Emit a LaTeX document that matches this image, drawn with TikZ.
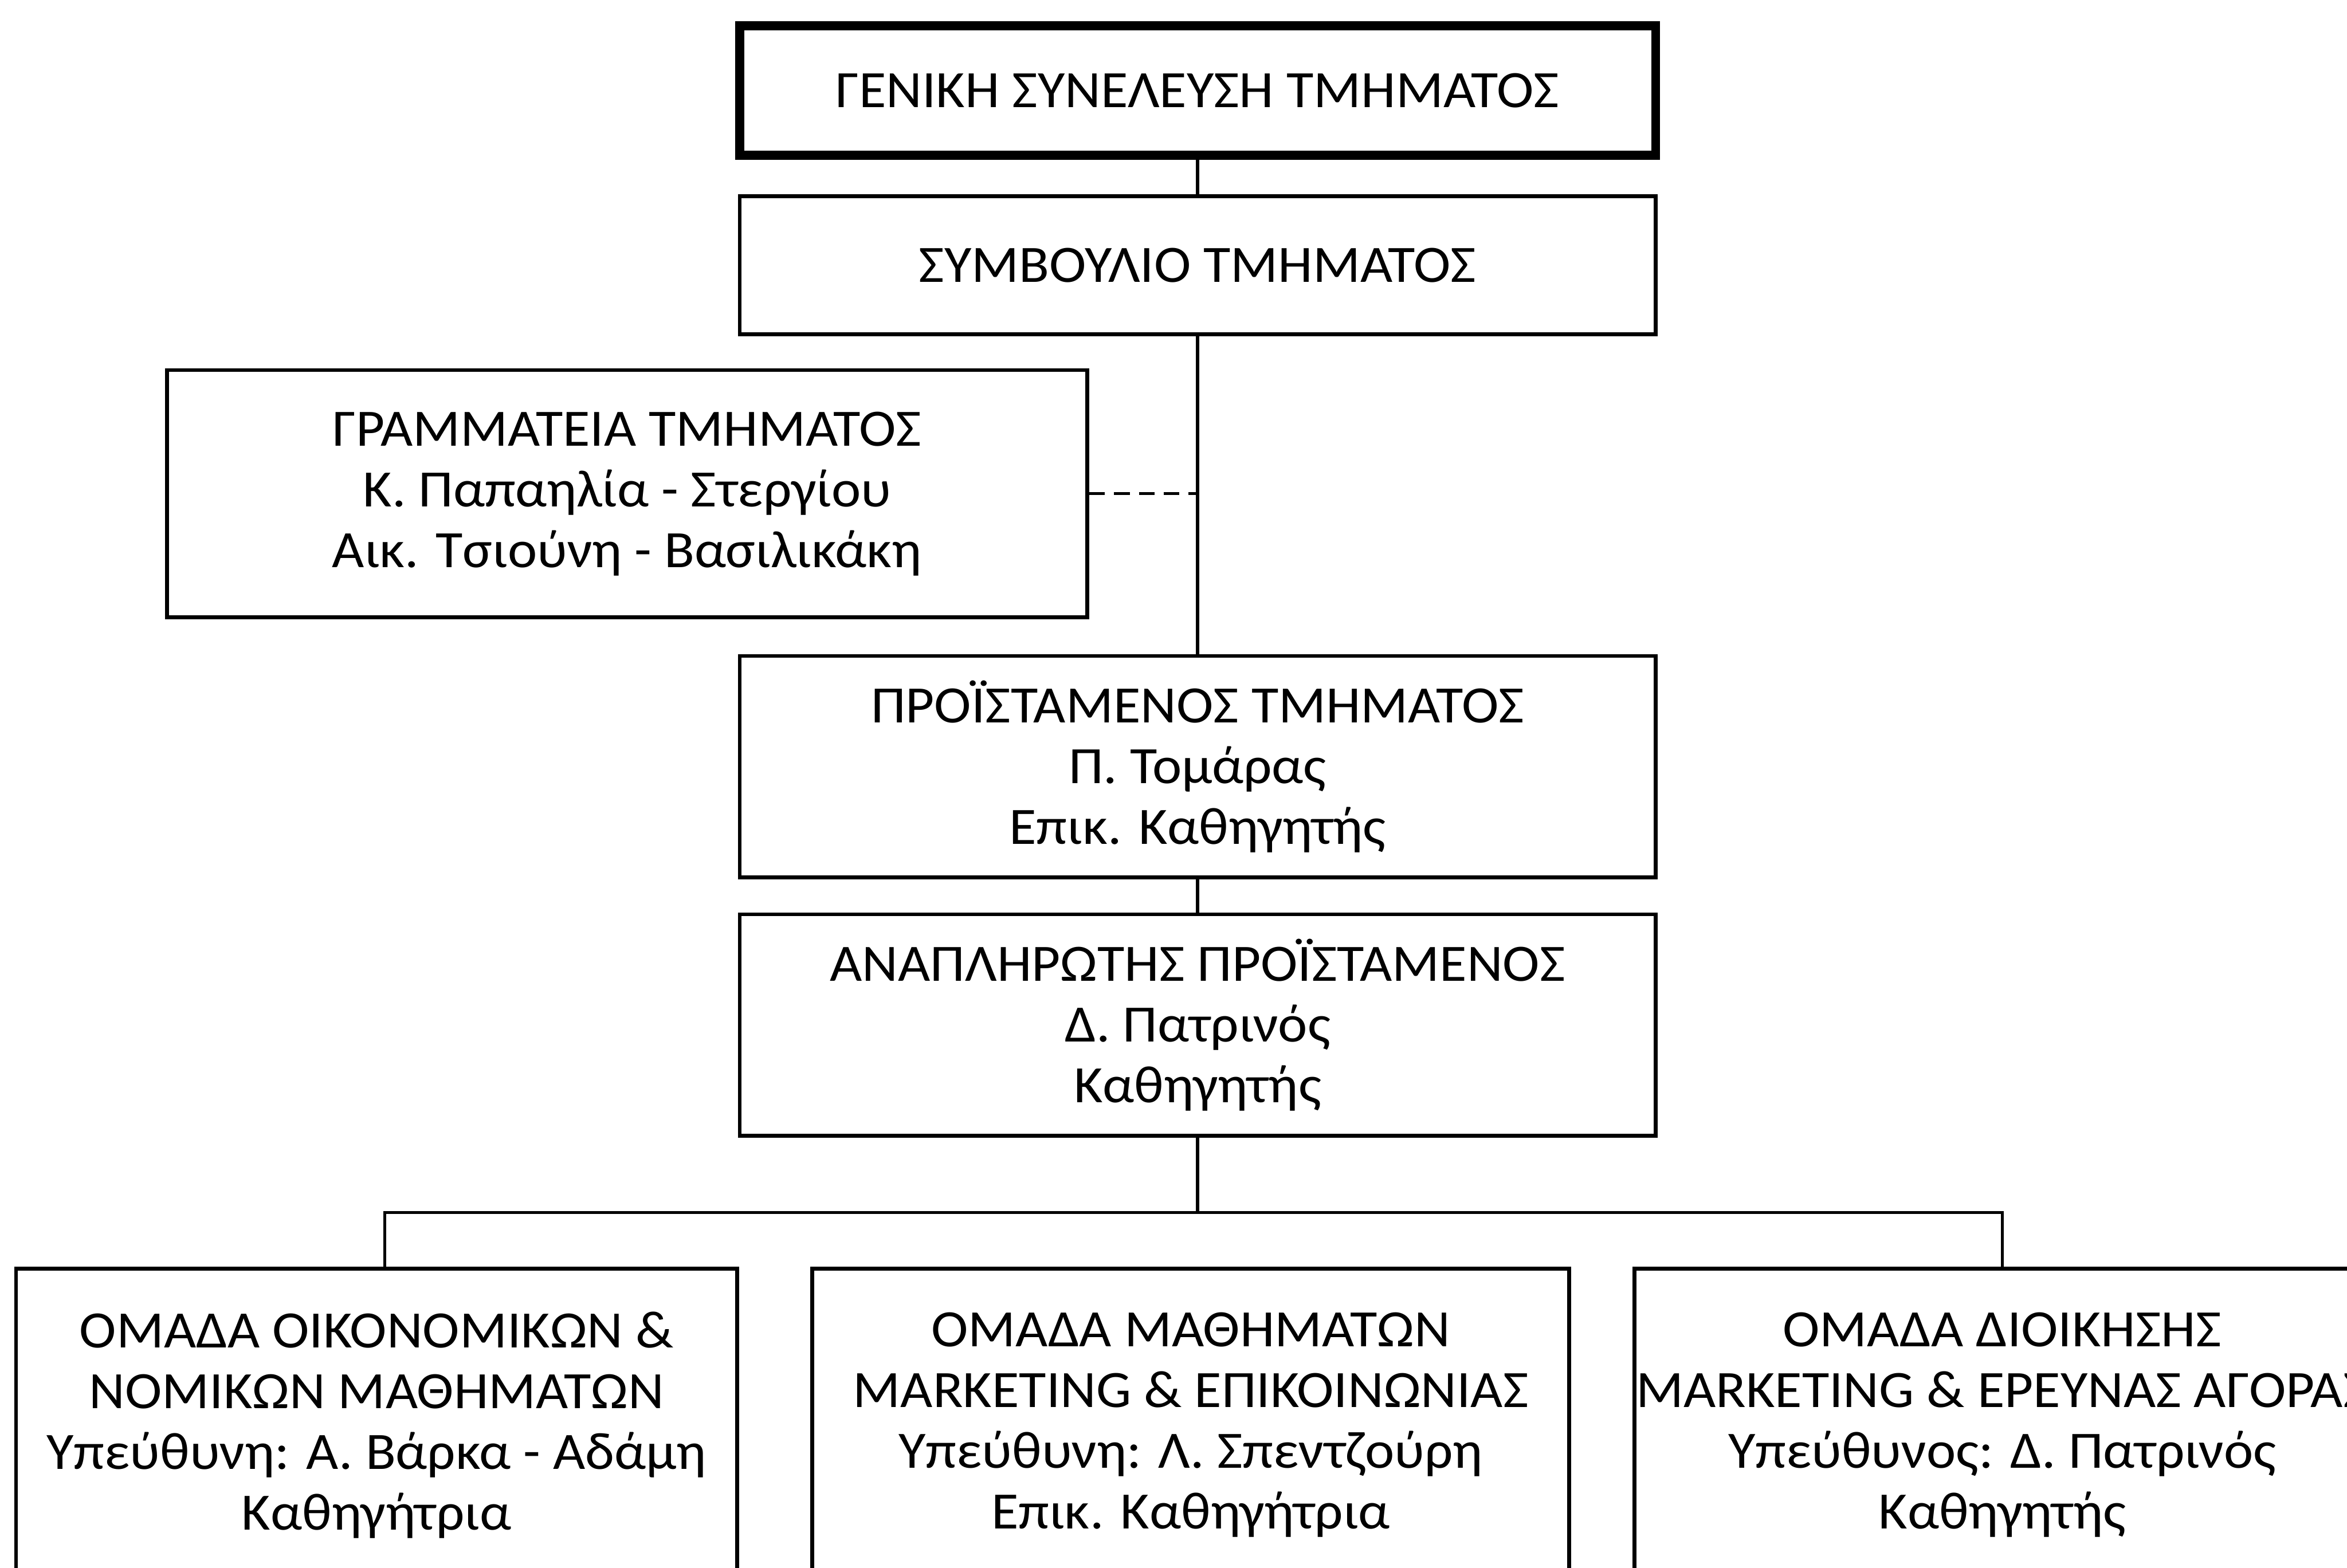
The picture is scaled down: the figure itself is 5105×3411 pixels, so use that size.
\documentclass[tikz,border=0pt]{standalone}
\usepackage{fontspec}
\setmainfont{Carlito}[FakeStretch=1.06]

\tikzset{
  unit/.style={draw, line width=2.4pt, align=center, minimum width=199.2mm,
    inner sep=0pt, font=\fontsize{32.5}{37.6}\selectfont},
  group/.style={unit, minimum height=68mm},
  link/.style={line width=1.9pt},
  dashlink/.style={line width=1.9pt, dash pattern=on 3.4mm off 2mm}
}

\begin{document}
\begin{tikzpicture}[x=0.1mm, y=-0.1mm]

\clip (0,0) rectangle (5105,3411);

% Main boxes
\node[unit, line width=5.5pt, minimum height=28.2mm] (genika) at (2605,197) {ΓΕΝΙΚΗ ΣΥΝΕΛΕΥΣΗ ΤΜΗΜΑΤΟΣ};
\node[unit, minimum height=30mm] (symvoulio) at (2605,577) {ΣΥΜΒΟΥΛΙΟ ΤΜΗΜΑΤΟΣ};
\node[unit, minimum width=200.2mm, minimum height=53.8mm] (grammateia) at (1364,1074)
  {ΓΡΑΜΜΑΤΕΙΑ ΤΜΗΜΑΤΟΣ\\Κ. Παπαηλία - Στεργίου\\Αικ. Τσιούνη - Βασιλικάκη};
\node[unit, minimum height=48.2mm] (proistamenos) at (2605,1668)
  {ΠΡΟΪΣΤΑΜΕΝΟΣ ΤΜΗΜΑΤΟΣ\\Π. Τομάρας\\Επικ. Καθηγητής};
\node[unit, minimum height=48.2mm] (anaplirotis) at (2605,2230)
  {ΑΝΑΠΛΗΡΩΤΗΣ ΠΡΟΪΣΤΑΜΕΝΟΣ\\Δ. Πατρινός\\Καθηγητής};

% Groups
\node[group, minimum width=156.8mm] (oikonomika) at (819,3100)
  {ΟΜΑΔΑ ΟΙΚΟΝΟΜΙΚΩΝ \&\\ΝΟΜΙΚΩΝ ΜΑΘΗΜΑΤΩΝ\\Υπεύθυνη: Α. Βάρκα - Αδάμη\\Καθηγήτρια};
\node[group, minimum width=164.6mm] (marketing) at (2590,3100)
  {ΟΜΑΔΑ ΜΑΘΗΜΑΤΩΝ\\MARKETING \& ΕΠΙΚΟΙΝΩΝΙΑΣ\\Υπεύθυνη: Λ. Σπεντζούρη\\Επικ. Καθηγήτρια};
\node[group, minimum width=160mm] (dioikisi) at (4355,3100)
  {ΟΜΑΔΑ ΔΙΟΙΚΗΣΗΣ\\MARKETING \& ΕΡΕΥΝΑΣ ΑΓΟΡΑΣ\\Υπεύθυνος: Δ. Πατρινός\\Καθηγητής};

% Lines
\draw[link] (genika) -- (symvoulio);
\draw[link] (symvoulio) -- (proistamenos);
\draw[link] (proistamenos) -- (anaplirotis);
\draw[dashlink] (grammateia.east) -- (grammateia.east -| symvoulio.south);

\coordinate (bus) at (2605,2638);
\draw[link] (anaplirotis) -- (bus);
\draw[link] ([xshift=1.8mm]oikonomika.north) |- (bus) -| (dioikisi.north);

\end{tikzpicture}
\end{document}
